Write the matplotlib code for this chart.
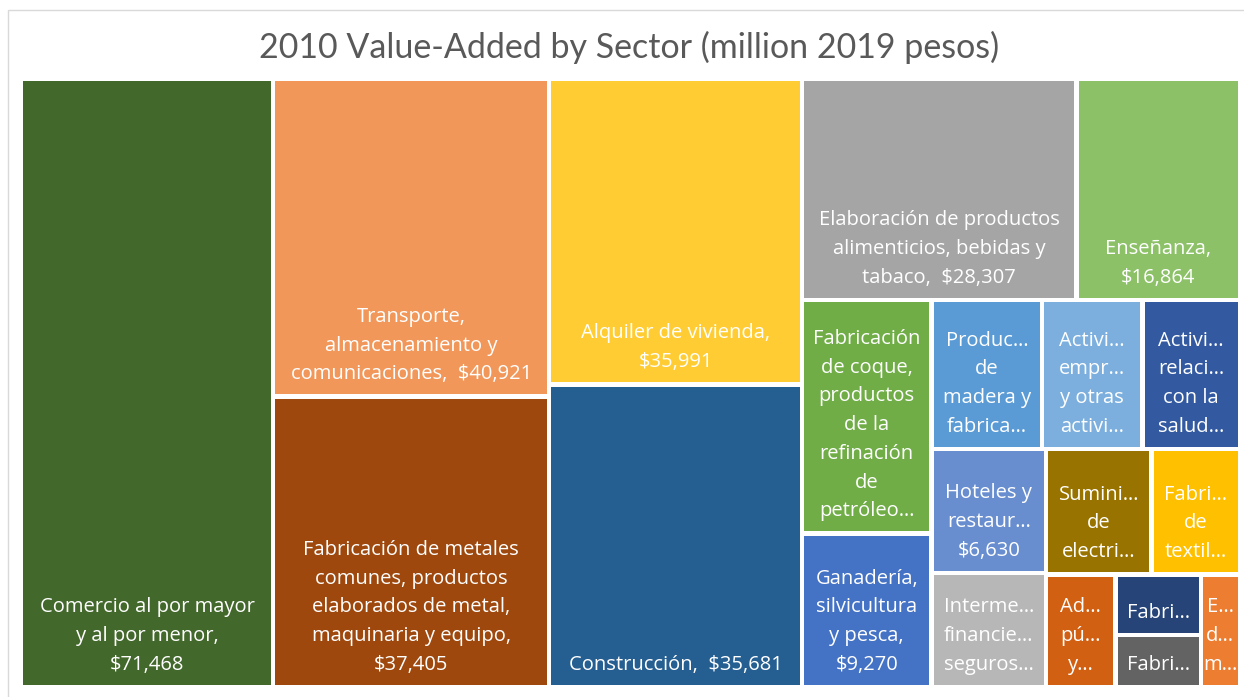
"""
Treemap of 2010 value-added by sector (Excel-style layout)
"""

import matplotlib
matplotlib.use('Agg')
import matplotlib.pyplot as plt
from matplotlib.patches import Rectangle

#---------------------------------------------------------------------------------------------------
# Input Parameters
#---------------------------------------------------------------------------------------------------

title = '2010 Value-Added by Sector (million 2019 pesos)'

# Tile labels as they appear in the chart ({v} is replaced by the formatted value)
labels = ['Comercio al por mayor\ny al por menor,\n{v}',
          'Transporte,\nalmacenamiento y\ncomunicaciones,  {v}',
          'Fabricación de metales\ncomunes, productos\nelaborados de metal,\nmaquinaria y equipo,\n{v}',
          'Alquiler de vivienda,\n{v}',
          'Construcción,  {v}',
          'Elaboración de productos\nalimenticios, bebidas y\ntabaco,  {v}',
          'Enseñanza,\n{v}',
          'Fabricación\nde coque,\nproductos\nde la\nrefinación\nde\npetróleo…',
          'Ganadería,\nsilvicultura\ny pesca,\n{v}',
          'Produc…\nde\nmadera y\nfabrica…',
          'Activi…\nempr…\ny otras\nactivi…',
          'Activi…\nrelaci…\ncon la\nsalud…',
          'Hoteles y\nrestaur…\n{v}',
          'Interme…\nfinancie…\nseguros…',
          'Sumini…\nde\nelectri…',
          'Fabri…\nde\ntextil…',
          'Ad…\npú…\ny…',
          'Fabri…',
          'Fabri…',
          'E…\nd…\nm…']

# Value-added (million 2019 pesos); unlabeled tiles estimated from their area
values = [71468, 40921, 37405, 35991, 35681, 28307, 16864, 14100, 9270, 7680,
          6950, 6780, 6630, 6100, 6180, 5170, 3640, 2410, 2070, 2060]

colors = ['#43682B', '#F1975A', '#9E480E', '#FFCD33', '#255E91', '#A5A5A5', '#8CC168',
          '#70AD47', '#4472C4', '#5B9BD5', '#7CAFDD', '#335AA1', '#698ED0', '#B7B7B7',
          '#997300', '#FFC000', '#D26012', '#264478', '#636363', '#ED7D31']

# Number of tiles in each strip, in layout order
strips = [1, 2, 2, 2, 2, 3, 2, 2, 1, 2, 1]

fig_w, fig_h = 1244, 697
tm_left, tm_right, tm_top, tm_bottom = 21, 1240, 79, 687   # treemap area (px)
gap = 4.5
label_pad = 10
label_font = 'Open Sans'
label_size = 14.5


#---------------------------------------------------------------------------------------------------
# Layout
#---------------------------------------------------------------------------------------------------

def strip_layout(vals, groups, x, y, w, h):
    """Lay each strip along the shorter side of the space that is left"""
    scale = w * h / sum(vals)
    rects = []
    i = 0
    for n in groups:
        grp = vals[i:i+n]
        area = sum(grp) * scale
        if w >= h:
            cw = area / h
            yy = y
            for v in grp:
                rh = v * scale / cw
                rects.append((x, yy, cw, rh))
                yy += rh
            x += cw
            w -= cw
        else:
            rh = area / w
            xx = x
            for v in grp:
                rw = v * scale / rh
                rects.append((xx, y, rw, rh))
                xx += rw
            y += rh
            h -= rh
        i += n
    return rects


#---------------------------------------------------------------------------------------------------
# Main Program
#---------------------------------------------------------------------------------------------------

fig = plt.figure(figsize=(fig_w / 100, fig_h / 100), dpi=100)

# Chart frame
fig.patches.append(Rectangle((8 / fig_w, -0.1), 1.2, 1 - 10 / fig_h + 0.1, transform=fig.transFigure,
                             fill=False, edgecolor='#D9D9D9', lw=1))

W = tm_right - tm_left
H = tm_bottom - tm_top
ax = fig.add_axes([tm_left / fig_w, 1 - tm_bottom / fig_h, W / fig_w, H / fig_h])
ax.set_xlim(0, W)
ax.set_ylim(H, 0)
ax.axis('off')

rects = strip_layout(values, strips, 0, 0, W, H)
for (x, y, w, h), lab, v, c in zip(rects, labels, values, colors):
    ax.add_patch(Rectangle((x + gap / 2, y + gap / 2), w - gap, h - gap, facecolor=c, edgecolor='none'))
    ax.text(x + w / 2, y + h - gap / 2 - label_pad, lab.format(v=f'${v:,.0f}'),
            ha='center', va='bottom', multialignment='center', color='white',
            fontsize=label_size, family=label_font, linespacing=1.58)

fig.text(0.506, 1 - 47 / fig_h, title, ha='center', va='center', fontsize=24.5, color='#595959',
         family='Lato')

plt.savefig('out.png', dpi=100)
plt.close()
